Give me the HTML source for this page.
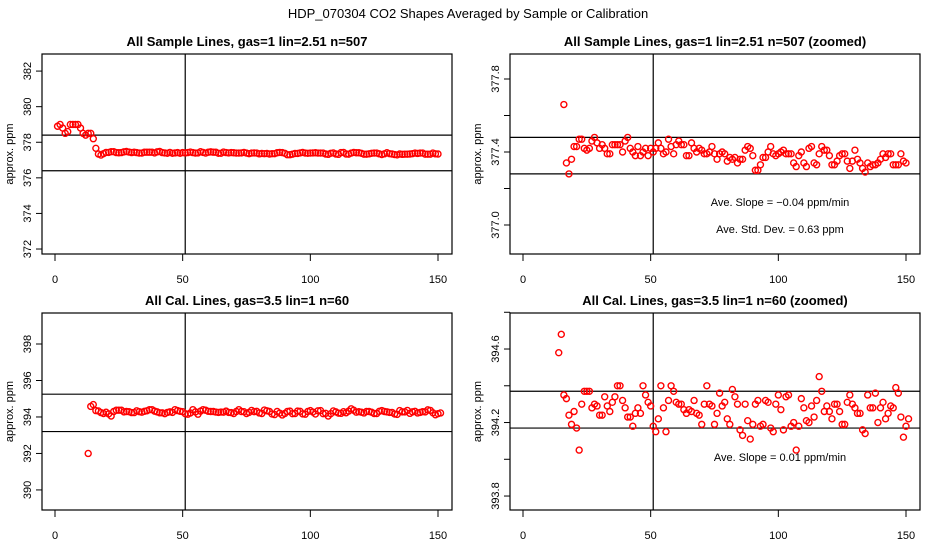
<!DOCTYPE html>
<html><head><meta charset="utf-8"><style>
body{margin:0;background:#fff;}
svg{display:block;font-family:"Liberation Sans",sans-serif;}
</style></head><body>
<svg id="chart" width="936" height="540" viewBox="0 0 936 540" xmlns="http://www.w3.org/2000/svg">
<rect width="936" height="540" fill="#fff"/>
<text x="468" y="18" text-anchor="middle" font-size="13">HDP_070304  CO2 Shapes Averaged by Sample or Calibration</text>
</svg>
<script>
const sampleEarlyX0 = 1;
const sampleEarly = [378.9,379.0,378.8,378.5,378.6,379.0,379.0,379.0,379.0,378.8,378.5,378.4,378.5,378.5,378.2];
const sampleMain = [377.66,377.34,377.28,377.36,377.43,377.43,377.47,377.47,377.42,377.41,377.42,377.46,377.48,377.45,377.42,377.44,377.42,377.39,377.39,377.44,377.44,377.44,377.44,377.40,377.46,377.48,377.42,377.40,377.38,377.43,377.38,377.40,377.42,377.38,377.42,377.40,377.42,377.45,377.42,377.39,377.40,377.47,377.43,377.39,377.44,377.46,377.44,377.44,377.38,377.38,377.45,377.42,377.40,377.42,377.41,377.39,377.39,377.40,377.43,377.39,377.36,377.39,377.40,377.39,377.35,377.37,377.36,377.37,377.34,377.36,377.36,377.41,377.43,377.42,377.38,377.30,377.30,377.33,377.37,377.37,377.40,377.43,377.39,377.38,377.39,377.40,377.41,377.39,377.39,377.39,377.34,377.32,377.38,377.40,377.34,377.32,377.42,377.43,377.34,377.33,377.39,377.43,377.41,377.41,377.38,377.33,377.33,377.35,377.38,377.39,377.39,377.35,377.31,377.35,377.41,377.36,377.34,377.31,377.29,377.34,377.32,377.33,377.33,377.34,377.36,377.39,377.37,377.39,377.39,377.33,377.33,377.33,377.39,377.35,377.34];
const calX0 = 13;
const calValues = [392.0,394.58,394.68,394.35,394.33,394.24,394.19,394.26,394.17,394.05,394.30,394.37,394.37,394.37,394.28,394.30,394.29,394.24,394.24,394.34,394.29,394.26,394.31,394.34,394.40,394.40,394.32,394.28,394.23,394.23,394.18,394.25,394.28,394.25,394.40,394.35,394.31,394.29,394.18,394.15,394.22,394.40,394.28,394.15,394.32,394.40,394.37,394.31,394.30,394.30,394.27,394.25,394.27,394.26,394.32,394.25,394.24,394.19,394.30,394.40,394.30,394.29,394.19,394.25,394.36,394.29,394.31,394.22,394.19,394.38,394.34,394.30,394.16,394.13,394.30,394.21,394.11,394.19,394.30,394.32,394.18,394.19,394.32,394.31,394.17,394.15,394.30,394.35,394.27,394.16,394.34,394.35,394.18,394.20,394.05,394.18,394.33,394.28,394.21,394.20,394.29,394.23,394.32,394.45,394.37,394.26,394.29,394.26,394.22,394.30,394.30,394.26,394.19,394.19,394.31,394.35,394.30,394.28,394.25,394.25,394.16,394.14,394.35,394.28,394.28,394.36,394.20,394.28,394.31,394.22,394.25,394.29,394.28,394.39,394.36,394.23,394.12,394.18,394.22];
const xTicks = [0,50,100,150];
const p1Ticks = [372,374,376,378,380,382];
const p2Ticks = [377.0,377.2,377.4,377.6,377.8];
const p2Labels = ["377.0","","377.4","","377.8"];
const p3Ticks = [390,392,394,396,398];
const p4Ticks = [393.8,394.0,394.2,394.4,394.6,394.8];
const p4Labels = ["393.8","","394.2","","394.6",""];

const NS="http://www.w3.org/2000/svg";
const svg=document.getElementById('chart');
function mk(tag,attrs,parent){const e=document.createElementNS(NS,tag);for(const k in attrs)e.setAttribute(k,attrs[k]);(parent||svg).appendChild(e);return e;}

function panel(o){
  const g=mk('g',{});
  
  
  const X=v=>o.ox+55+(v/150)*383;
  const Y=v=>o.top+(o.ymax-v)/(o.ymax-o.ymin)*(o.bot-o.top);
  const L=o.ox+42,R=o.ox+452;
  const t=mk('text',{x:o.ox+247,y:o.top-8,'text-anchor':'middle','font-size':13,'font-weight':'bold'},g);
  t.textContent=o.title;
  
  
  // box
  const b=mk('rect',{x:L,y:o.top,width:R-L,height:o.bot-o.top,fill:'none',stroke:'#000','stroke-width':1.2},g);
  
  
  // x axis
  const xa=mk('g',{},g);
  
  
  mk('line',{x1:X(0),x2:X(150),y1:o.bot,y2:o.bot,stroke:'#000'},xa);
  xTicks.forEach(v=>{
    mk('line',{x1:X(v),x2:X(v),y1:o.bot,y2:o.bot+7,stroke:'#000'},xa);
    const tx=mk('text',{x:X(v),y:o.bot+29,'text-anchor':'middle','font-size':11},xa);
    tx.textContent=v;
    
    
  });
  // y axis
  const ya=mk('g',{},g);
  
  
  mk('line',{x1:L,x2:L,y1:Y(o.yticks[0]),y2:Y(o.yticks[o.yticks.length-1]),stroke:'#000'},ya);
  o.yticks.forEach((v,i)=>{
    const y=Y(v);
    mk('line',{x1:L-6,x2:L,y1:y,y2:y,stroke:'#000'},ya);
    const lab=o.ylabels?o.ylabels[i]:String(v);
    if(lab){
      const ty=mk('text',{x:o.ox+31,y:y,'text-anchor':'middle','font-size':11,transform:`rotate(-90 ${o.ox+31} ${y})`},ya);
      ty.textContent=lab;
      
      
    }
  });
  const yt=mk('text',{x:o.ox+13,y:(o.top+o.bot)/2,'text-anchor':'middle','font-size':11,transform:`rotate(-90 ${o.ox+13} ${(o.top+o.bot)/2})`},g);
  yt.textContent='approx. ppm';
  
  
  // ref lines
  o.hlines.forEach(v=>{
    const l=mk('line',{x1:L,x2:R,y1:Y(v),y2:Y(v),stroke:'#000','stroke-width':1.2},g);
    
    
  });
  const vl=mk('line',{x1:X(51),x2:X(51),y1:o.top,y2:o.bot,stroke:'#000','stroke-width':1.2},g);
  
  
  // points
  o.series.forEach(s=>{
    s.vals.forEach((v,i)=>{
      if(v>o.ymax||v<o.ymin)return;
      const c=mk('circle',{cx:X(s.x0+i),cy:Y(v),r:3,fill:'none',stroke:'#f00','stroke-width':1.4},g);
      
      
    });
  });
  (o.notes||[]).forEach(n=>{
    const tn=mk('text',{x:o.ox+312,y:n[1],'text-anchor':'middle','font-size':11},g);
    tn.textContent=n[0];
    
    
  });
}
panel({name:'panel-sample',ox:0,top:54,bot:254,ymin:371.72,ymax:382.96,yticks:p1Ticks,hlines:[378.4,376.4],
  title:'All Sample Lines, gas=1 lin=2.51 n=507',series:[{x0:sampleEarlyX0,vals:sampleEarly},{x0:16,vals:sampleMain}]});
panel({name:'panel-sample-zoomed',ox:468,top:54,bot:254,ymin:376.841,ymax:377.937,yticks:p2Ticks,ylabels:p2Labels,hlines:[377.48,377.28],
  title:'All Sample Lines, gas=1 lin=2.51 n=507 (zoomed)',series:[{x0:sampleEarlyX0,vals:sampleEarly},{x0:16,vals:sampleMain}],
  notes:[['Ave. Slope =  \u22120.04  ppm/min',206],['Ave. Std. Dev. = 0.63  ppm',233]]});
panel({name:'panel-cal',ox:0,top:313,bot:510,ymin:388.9,ymax:399.7,yticks:p3Ticks,hlines:[395.25,393.2],
  title:'All Cal. Lines, gas=3.5 lin=1 n=60',series:[{x0:calX0,vals:calValues}]});
panel({name:'panel-cal-zoomed',ox:468,top:313,bot:510,ymin:393.724,ymax:394.796,yticks:p4Ticks,ylabels:p4Labels,hlines:[394.37,394.17],
  title:'All Cal. Lines, gas=3.5 lin=1 n=60 (zoomed)',series:[{x0:calX0,vals:calValues}],
  notes:[['Ave. Slope =  0.01  ppm/min',461]]});
</script>
</body></html>
